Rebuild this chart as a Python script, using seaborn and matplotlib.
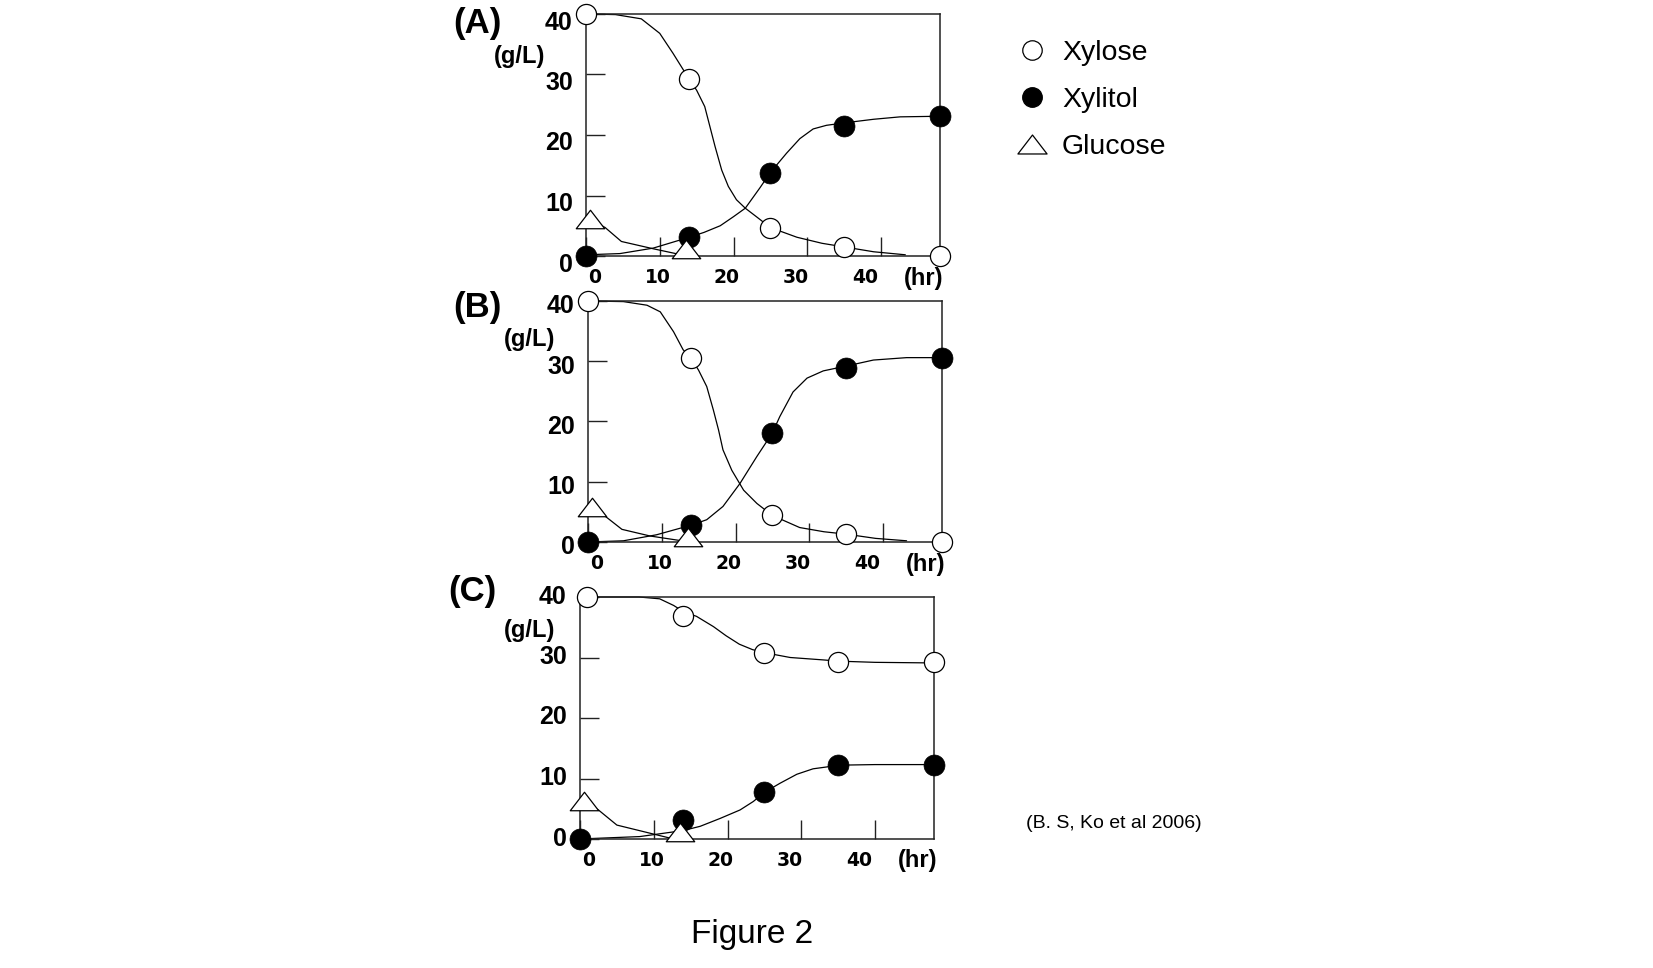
"""Figure 2 — xylose / xylitol / glucose time courses.

Three stacked panels (A-C), hand-fitted curves through the sampled
points, one shared legend on the right.

Usage:
    python plot.py
"""

from __future__ import annotations

import matplotlib
matplotlib.use("Agg")
import matplotlib.pyplot as plt
import matplotlib.transforms as mtransforms
import pandas as pd
import seaborn as sns
from matplotlib.lines import Line2D
from matplotlib.markers import MarkerStyle
from matplotlib.path import Path

# ── Data ─────────────────────────────────────────────────────────────

TIME = [0, 14, 25, 35, 48]  # hr
C_XYLOSE_TIME = [1, 14, 25, 35, 48]
GLUCOSE_TIME = [0.5, 13.5]

A_XYLOSE = [40, 29.2, 4.7, 1.5, 0]
A_XYLITOL = [0, 3.1, 13.8, 21.5, 23.1]
A_GLUCOSE = [6.1, 1.2]

B_XYLOSE = [40, 30.5, 4.4, 1.3, 0]
B_XYLITOL = [0, 2.8, 18.1, 28.8, 30.5]
B_GLUCOSE = [5.8, 0.8]

C_XYLOSE = [40, 36.9, 30.8, 29.2, 29.2]
C_XYLITOL = [0, 3.1, 7.7, 12.3, 12.3]
C_GLUCOSE = [6.2, 1.2]

# curves were drawn by hand in the original; traced as (hr, g/L)
A_XYLOSE_FIT = [(0, 40), (4, 39.9), (7.5, 39.2), (10, 36.8), (11.8, 33.5), (14, 29.2),
                (15, 27.4), (16.1, 24.7), (16.8, 21.4), (17.5, 18.1), (18.4, 14.2),
                (19.3, 11.5), (20.4, 9.3), (21.6, 7.9), (23.1, 6.5), (25, 4.7),
                (28.6, 3.1), (32, 2.1), (35, 1.5), (39, 0.7), (43.3, 0.2)]
A_XYLITOL_FIT = [(0, 0.2), (4.6, 0.4), (9.1, 1.3), (14, 3.1), (16, 3.9), (18.2, 5.0),
                 (20, 6.5), (21.6, 7.9), (23.6, 11.3), (25, 13.8), (27.2, 17.0),
                 (29, 19.4), (30.8, 21.0), (32.6, 21.6), (35, 22.0), (39, 22.6),
                 (42.6, 23.0), (48, 23.1)]
A_GLUCOSE_FIT = [(0.5, 6.1), (2.6, 4.7), (4.8, 2.4), (9.1, 1.2), (13.7, 0)]

B_XYLOSE_FIT = [(0, 40), (4.8, 39.9), (8, 39.3), (9.8, 38.2), (11.6, 34.9), (12.9, 31.9),
                (14, 30.5), (15, 28.5), (16.1, 25.8), (17, 21.9), (17.7, 18.6),
                (18.3, 15.3), (19.5, 11.9), (21.1, 8.6), (22.9, 6.4), (25, 4.4),
                (28.7, 2.4), (32, 1.7), (35, 1.3), (39, 0.6), (43.2, 0.2)]
B_XYLITOL_FIT = [(0, 0), (4.8, 0.2), (9.3, 1.2), (14, 2.8), (16.1, 3.7), (18.3, 5.9),
                 (20.6, 9.7), (22.9, 14.2), (25, 18.1), (26, 20.8), (27.8, 24.9),
                 (29.7, 27.2), (31.9, 28.4), (35, 29.2), (38.7, 30.2), (43.2, 30.6),
                 (48, 30.6)]
B_GLUCOSE_FIT = [(0.5, 5.8), (2.1, 4.5), (4.6, 2.1), (8.4, 1.0), (13.8, 0)]

C_XYLOSE_FIT = [(1, 40), (8, 40), (10.8, 39.7), (12.7, 38.6), (14, 37.6), (15.8, 36.8),
                (18.1, 35.1), (19.8, 33.6), (21.6, 32.2), (23.4, 31.3), (25, 30.8),
                (28.5, 30.0), (33, 29.6), (35, 29.4), (40, 29.2), (48, 29.1)]
C_XYLITOL_FIT = [(0, 0), (4, 0.2), (8.1, 0.4), (14, 1.4), (16.3, 2.1), (19, 3.4),
                 (21.7, 4.8), (23.5, 6.2), (25, 7.7), (27.1, 9.2), (29.4, 10.7),
                 (31.6, 11.6), (33.4, 11.9), (35, 12.2), (40, 12.3), (48, 12.3)]
C_GLUCOSE_FIT = [(0.5, 6.2), (2.5, 4.8), (5, 2.3), (12.7, 0)]

Y_TICKS = [0, 10, 20, 30, 40]
X_TICKS = [0, 10, 20, 30, 40]
LEGEND_LABELS = ["Xylose", "Xylitol", "Glucose"]
CITATION = "(B. S, Ko et al 2006)"
TITLE = "Figure 2"

# ── Layout (pixels of a 1653x968 canvas) ─────────────────────────────

W, H, DPI = 1653, 968, 100
AX_BOX = {"A": (586, 14, 940, 256), "B": (588, 301, 942, 542), "C": (580, 597, 934, 839)}
TAG_XY = {"A": (477, 24), "B": (477, 307), "C": (472, 591)}
UNIT_XY = {"A": (520, 56), "B": (530, 339), "C": (530, 630)}
YLABEL_DROP = {"A": 6, "B": 3, "C": -3}
XLABEL_SHIFT = [9, -2, -7, -12, -16]

TRIANGLE = MarkerStyle(Path([(-1, -0.65), (1, -0.65), (0, 0.65), (-1, -0.65)], closed=True))
INK = "#222222"


def fx(px: float) -> float:
    return px / W


def fy(py: float) -> float:
    return 1 - py / H


def _nudge(labels, dxs, dys, fig) -> None:
    for lab, dx, dy in zip(labels, dxs, dys):
        off = mtransforms.ScaledTranslation(dx / DPI, -dy / DPI, fig.dpi_scale_trans)
        lab.set_transform(lab.get_transform() + off)


def _panel(ax, fig, key, xylose_t, xylose, xylitol, glucose, fits) -> None:
    for pts in fits:
        df = pd.DataFrame(pts, columns=["hr", "gL"])
        sns.lineplot(data=df, x="hr", y="gL", ax=ax, color="black", linewidth=0.9,
                     sort=False, estimator=None, clip_on=False, zorder=2)

    sns.scatterplot(x=xylose_t, y=xylose, ax=ax, marker="o", s=210, color="black",
                    facecolor="white", edgecolor="black", linewidth=0.9, clip_on=False, zorder=3)
    sns.scatterplot(x=TIME, y=xylitol, ax=ax, marker="o", s=228, color="black",
                    edgecolor="black", linewidth=0.5, clip_on=False, zorder=3)
    sns.scatterplot(x=GLUCOSE_TIME, y=glucose, ax=ax, marker=TRIANGLE, s=420, color="black",
                    facecolor="white", edgecolor="black", linewidth=0.9, clip_on=False, zorder=3)

    ax.set_xlim(0, 48)
    ax.set_ylim(0, 40)
    ax.set_xticks(X_TICKS)
    ax.set_yticks(Y_TICKS)
    ax.set_xlabel("")
    ax.set_ylabel("")
    for side in ("left", "right", "top", "bottom"):
        ax.spines[side].set_visible(True)
        ax.spines[side].set_color(INK)
        ax.spines[side].set_linewidth(1.1)
    ax.tick_params(axis="both", direction="in", length=13.7, width=1.0, color=INK,
                   bottom=True, left=True, top=False, right=False, labelcolor="black")
    ax.tick_params(axis="x", pad=8.5)
    ax.tick_params(axis="y", pad=9.5)

    for lab in ax.get_yticklabels():
        lab.set_fontweight("bold")
        lab.set_fontsize(18)
    for lab in ax.get_xticklabels():
        lab.set_family("DejaVu Sans")
        lab.set_fontweight("bold")
        lab.set_fontsize(13.5)

    _nudge(ax.get_xticklabels(), XLABEL_SHIFT, [0] * 5, fig)
    _nudge(ax.get_yticklabels(), [0] * 5, [YLABEL_DROP[key]] * 5, fig)

    ax.annotate("(hr)", xy=(1, 0), xycoords="axes fraction", xytext=(-16, -22),
                textcoords="offset pixels", ha="center", va="center",
                fontsize=17, fontweight="bold", color="black")


def main() -> None:
    sns.set_theme(style="white")
    plt.rcParams["font.family"] = ["Liberation Sans", "DejaVu Sans"]
    plt.rcParams["text.color"] = "black"

    fig = plt.figure(figsize=(W / DPI, H / DPI), dpi=DPI)
    fig.patch.set_facecolor("white")

    panels = {
        "A": (TIME, A_XYLOSE, A_XYLITOL, A_GLUCOSE, [A_XYLOSE_FIT, A_XYLITOL_FIT, A_GLUCOSE_FIT]),
        "B": (TIME, B_XYLOSE, B_XYLITOL, B_GLUCOSE, [B_XYLOSE_FIT, B_XYLITOL_FIT, B_GLUCOSE_FIT]),
        "C": (C_XYLOSE_TIME, C_XYLOSE, C_XYLITOL, C_GLUCOSE, [C_XYLOSE_FIT, C_XYLITOL_FIT, C_GLUCOSE_FIT]),
    }
    for key, (xt, xs, xl, gl, fits) in panels.items():
        x0, y0, x1, y1 = AX_BOX[key]
        ax = fig.add_axes([fx(x0), fy(y1), fx(x1 - x0), (y1 - y0) / H])
        ax.set_facecolor("white")
        _panel(ax, fig, key, xt, xs, xl, gl, fits)
        fig.text(fx(TAG_XY[key][0]), fy(TAG_XY[key][1]), f"({key})", ha="center", va="center",
                 fontsize=25, fontweight="bold")
        fig.text(fx(UNIT_XY[key][0]), fy(UNIT_XY[key][1]), "(g/L)", ha="center", va="center",
                 fontsize=17, fontweight="bold")

    handles = [
        Line2D([], [], ls="none", marker="o", ms=14, mfc="white", mec="black", mew=0.9),
        Line2D([], [], ls="none", marker="o", ms=14, mfc="black", mec="black"),
        Line2D([], [], ls="none", marker=TRIANGLE, ms=21, mfc="white", mec="black", mew=0.9),
    ]
    fig.legend(handles, LEGEND_LABELS, loc="upper left", bbox_to_anchor=(fx(1019), fy(40)),
               frameon=False, fontsize=20.5, handlelength=0.9, handletextpad=0.61,
               labelspacing=0.74, borderpad=0, borderaxespad=0)

    fig.text(fx(1026), fy(824), CITATION, ha="left", va="center", fontsize=14)
    fig.text(fx(752), fy(934), TITLE, ha="center", va="center", fontsize=24)

    fig.savefig("out.png", dpi=DPI, facecolor="white")
    plt.close(fig)


if __name__ == "__main__":
    main()
